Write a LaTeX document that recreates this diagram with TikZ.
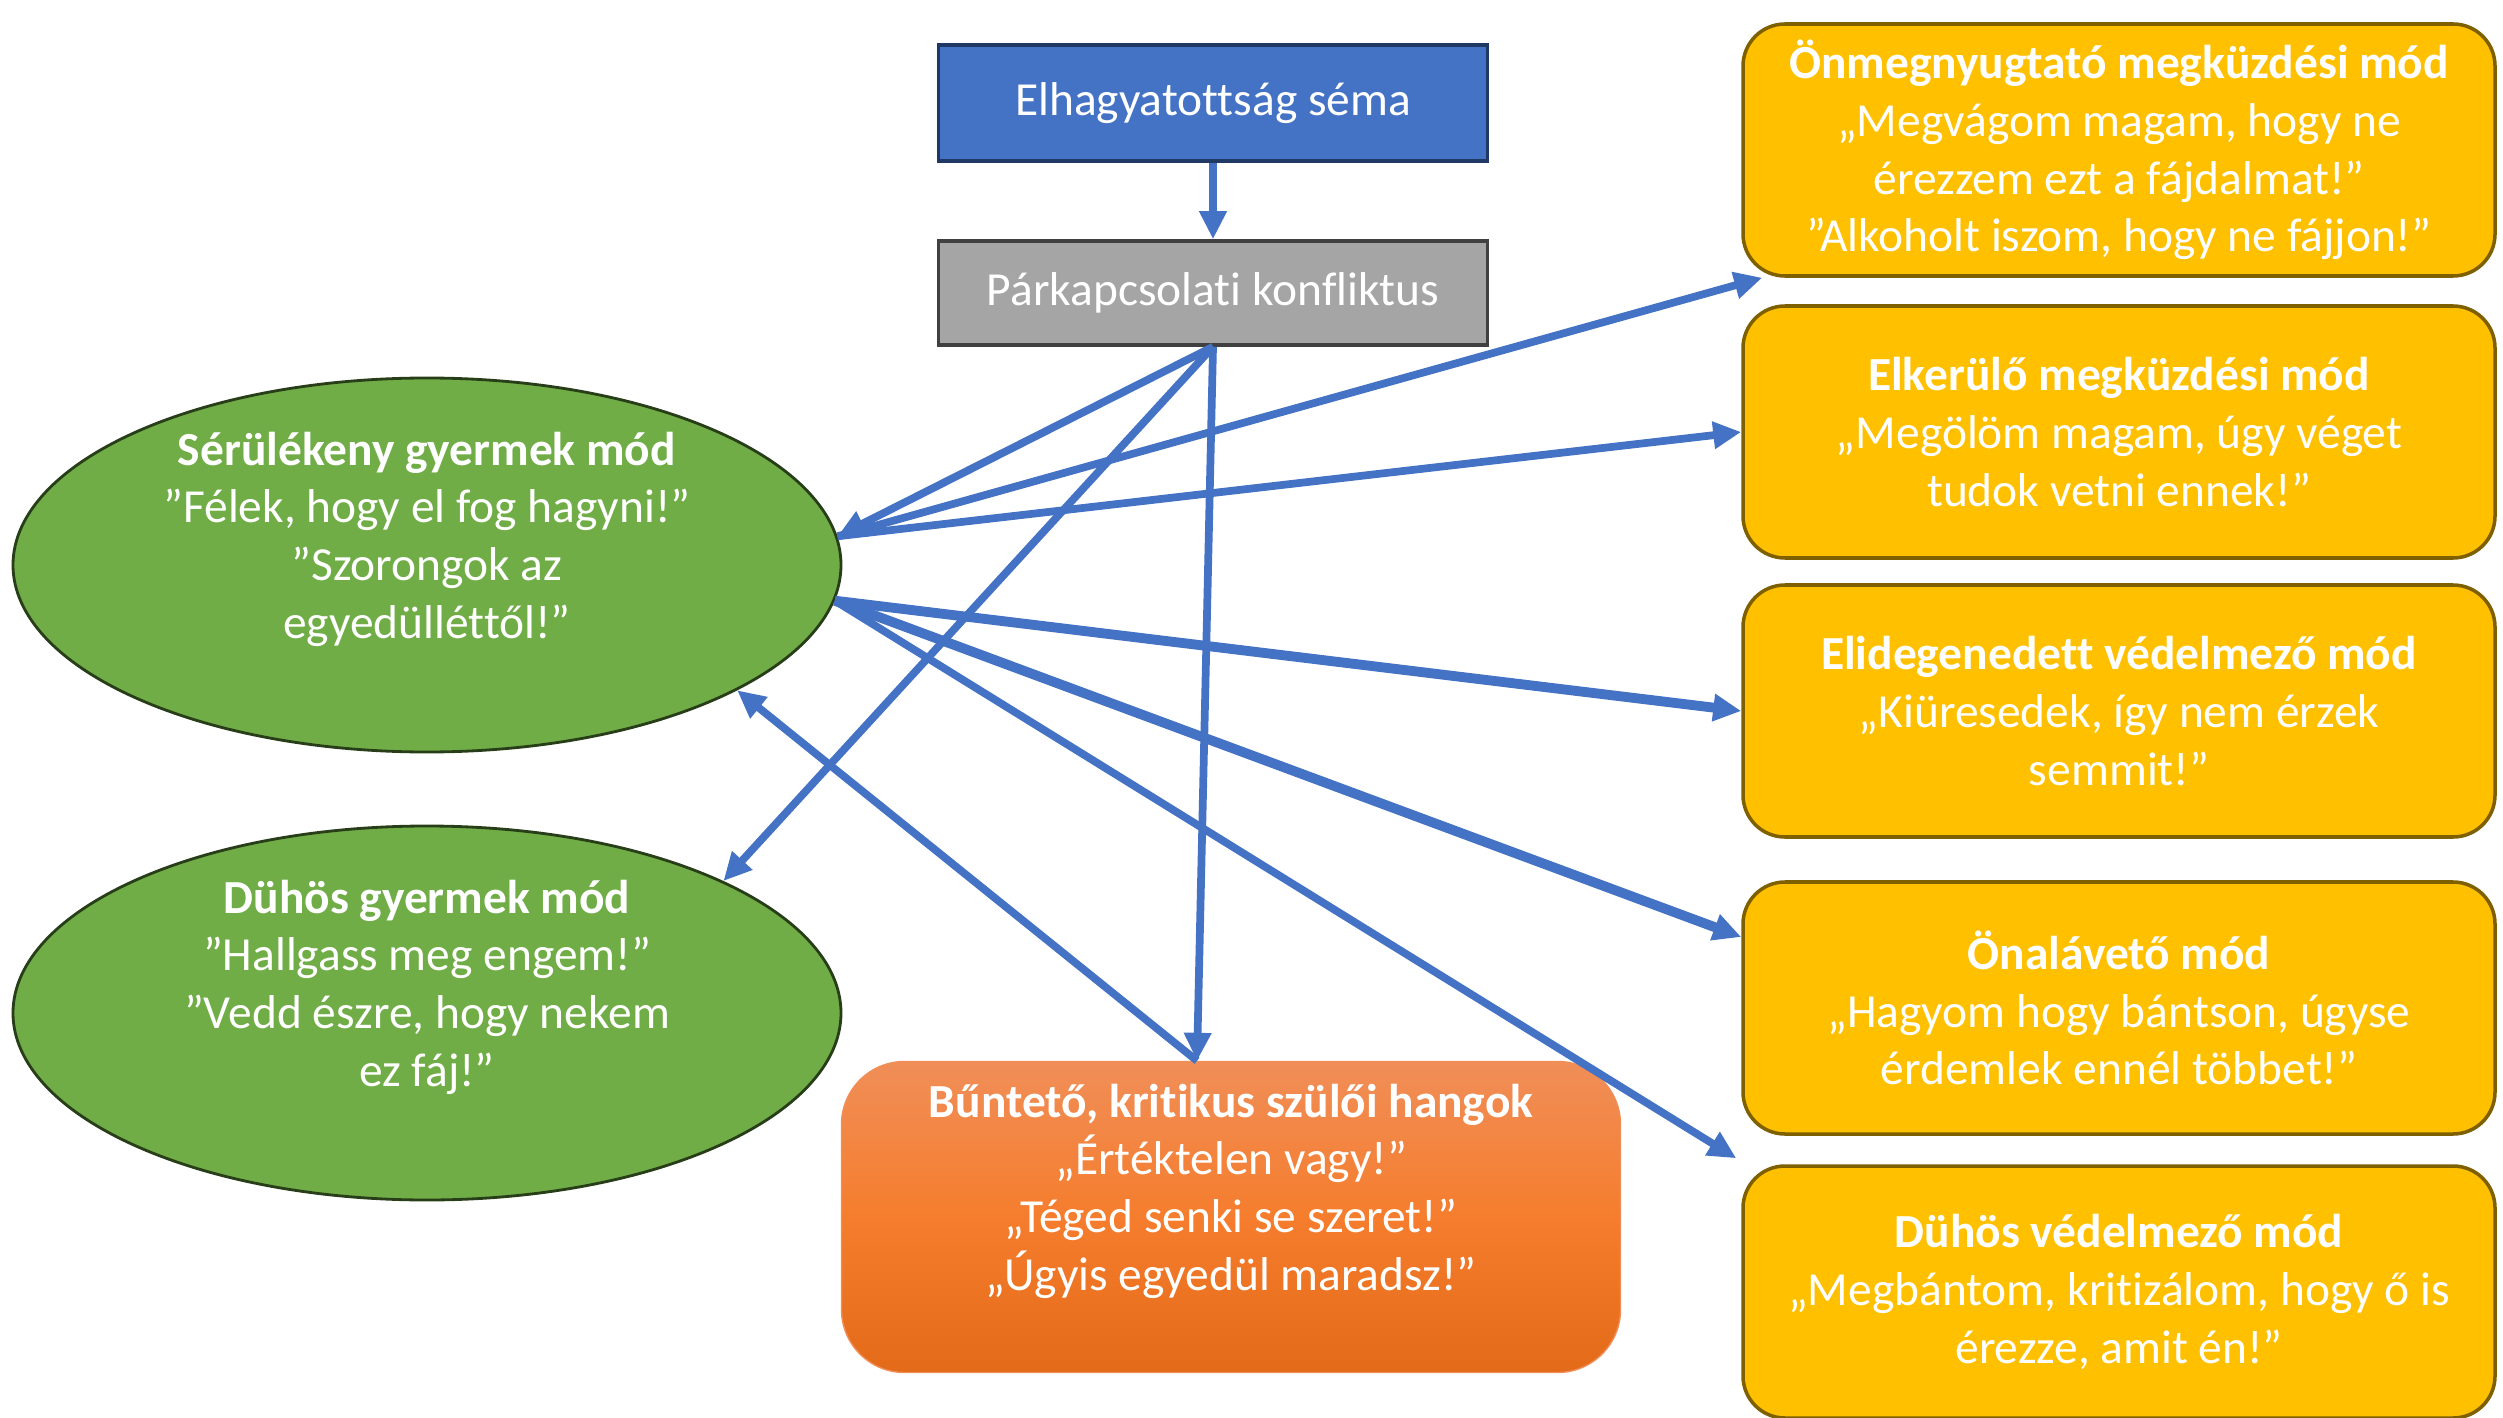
\documentclass[tikz,border=0pt]{standalone}
\usepackage{fontspec}
\setmainfont{Carlito}[RawFeature={-liga;-clig;-dlig;-calt}]
\usetikzlibrary{arrows.meta,shapes.geometric,positioning,calc}

\definecolor{schemablue}{RGB}{68,114,196}
\definecolor{schemanavy}{RGB}{31,56,100}
\definecolor{conflgray}{RGB}{165,165,165}
\definecolor{conflborder}{RGB}{64,64,64}
\definecolor{modegreen}{RGB}{112,173,71}
\definecolor{modegreenborder}{RGB}{40,62,24}
\definecolor{copeyellow}{RGB}{255,192,0}
\definecolor{copeborder}{RGB}{127,96,0}
\definecolor{parenttop}{RGB}{240,142,88}
\definecolor{parentmid}{RGB}{245,125,45}
\definecolor{parentbot}{RGB}{226,106,24}
\definecolor{arrowblue}{RGB}{68,114,196}

\tikzset{
  txt/.style={font=\fontsize{13.5}{16.4}\selectfont, text=white, align=center},
  schemabox/.style={txt, rectangle, draw=schemanavy, line width=1pt, fill=schemablue,
    minimum width=5.49cm, minimum height=1.16cm},
  conflbox/.style={txt, rectangle, draw=conflborder, line width=1pt, fill=conflgray,
    minimum width=5.49cm, minimum height=1.04cm},
  childmode/.style={ellipse, draw=modegreenborder, line width=0.8pt, fill=modegreen,
    minimum width=8.28cm, minimum height=3.74cm, inner sep=0pt},
  copebox/.style={txt, rectangle, rounded corners=0.42cm, draw=copeborder, line width=1pt,
    fill=copeyellow, minimum width=7.52cm, minimum height=2.52cm},
  parentbox/.style={rectangle, rounded corners=0.63cm, draw=parenttop, line width=0.4pt,
    top color=parenttop, bottom color=parentbot, middle color=parentmid,
    minimum width=7.79cm, minimum height=3.11cm},
  conn/.style={draw=arrowblue, line width=2.2pt, -{Triangle[length=0.28cm,width=0.26cm]}},
  thickconn/.style={conn, line width=2.8pt}
}

\begin{document}
\begin{tikzpicture}
  \useasboundingbox (0,0) rectangle (25.03,-14.18);

  % schema and conflict
  \node[schemabox] (sema) at (12.13,-1.03) {Elhagyatottság séma};
  \node[conflbox] (konf) at (12.13,-2.93) {Párkapcsolati konfliktus};

  % child modes
  \node[childmode] (serul) at (4.27,-5.65) {};
  \node[txt] (serultxt) at ([yshift=0.26cm]serul.center)
    {\textbf{Sérülékeny gyermek mód}\\”Félek, hogy el fog hagyni!”\\”Szorongok az\\egyedülléttől!”};
  \node[childmode] (duhosgy) at (4.27,-10.13) {};
  \node[txt] (duhosgytxt) at ([yshift=0.26cm]duhosgy.center)
    {\textbf{Dühös gyermek mód}\\”Hallgass meg engem!”\\”Vedd észre, hogy nekem\\ez fáj!”};

  % parent voices
  \node[parentbox] (bunteto) at (12.31,-12.17) {};
  \node[txt] (buntetotxt) at ([yshift=0.26cm]bunteto.center)
    {\textbf{Bűntető, kritikus szülői hangok}\\„Értéktelen vagy!”\\„Téged senki se szeret!”\\„Úgyis egyedül maradsz!”};
  \coordinate (btop) at ([xshift=-0.34cm]bunteto.north);

  % coping modes
  \node[copebox] (onmeg) at (21.19,-1.50)
    {\textbf{Önmegnyugtató megküzdési mód}\\„Megvágom magam, hogy ne\\érezzem ezt a fájdalmat!”\\”Alkoholt iszom, hogy ne fájjon!”};
  \node[copebox] (elker) at (21.19,-4.32)
    {\textbf{Elkerülő megküzdési mód}\\„Megölöm magam, úgy véget\\tudok vetni ennek!”};
  \node[copebox] (elid) at (21.19,-7.11)
    {\textbf{Elidegenedett védelmező mód}\\„Kiüresedek, így nem érzek\\semmit!”};
  \node[copebox] (onal) at (21.19,-10.08)
    {\textbf{Önalávető mód}\\„Hagyom hogy bántson, úgyse\\érdemlek ennél többet!”};
  \node[copebox] (duhosv) at (21.19,-12.92)
    {\textbf{Dühös védelmező mód}\\„Megbántom, kritizálom, hogy ő is\\érezze, amit én!”};

  % connectors
  \draw[conn] (sema) -- (konf);
  \draw[conn] (konf.south) -- (serul.4);
  \draw[conn] (konf.south) -- (duhosgy.24);
  \draw[conn] (konf.south) -- (btop);
  \draw[conn] (btop) -- (serul.-22);
  \draw[conn] (serul.4) -- ([xshift=0.21cm]onmeg.south west);
  \draw[conn] (serul.4) -- (elker.west);
  \draw[thickconn] (serul.-5) -- (elid.west);
  \draw[thickconn] (serul.-5) -- ([yshift=0.71cm]onal.west);
  \draw[conn] (serul.-5) -- ([xshift=-0.05cm,yshift=0.06cm]duhosv.north west);
\end{tikzpicture}
\end{document}
